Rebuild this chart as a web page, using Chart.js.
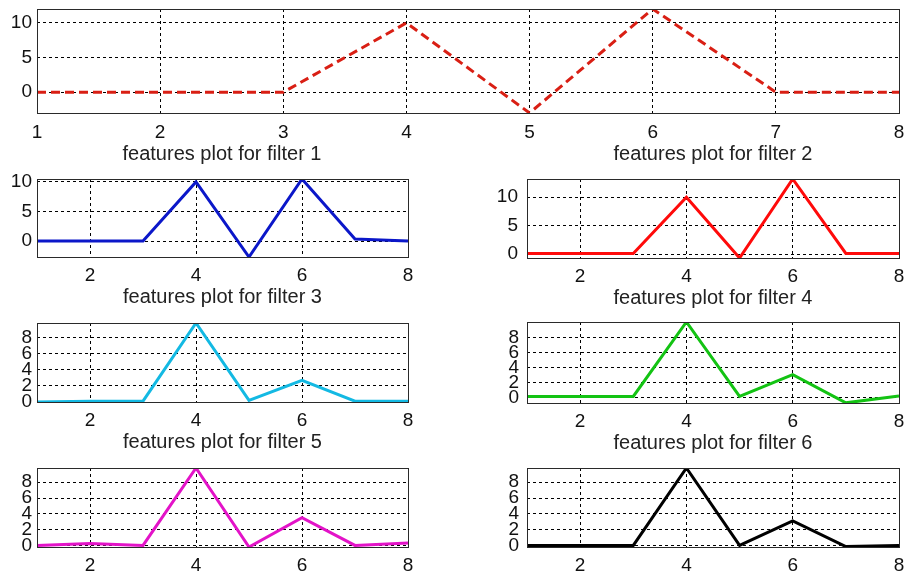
<!DOCTYPE html>
<html>
<head>
<meta charset="utf-8">
<script src="https://cdn.jsdelivr.net/npm/chart.js@4.4.0/dist/chart.umd.min.js"></script>
<style>
  html, body { margin: 0; padding: 0; background: #fff; }
  #fig { position: relative; width: 907px; height: 577px; overflow: hidden; }
  #fig canvas { position: absolute; }
</style>
</head>
<body>
<div id="fig"></div>
<script>
// feature index on the x axis
const xValues = [1, 2, 3, 4, 5, 6, 7, 8]

// values
const filter12 = [0, 0, 0, 10, -3, 12, 0, 0]
const filter3 = [0, 0, 0, 10, -2.7, 10.5, 0.35, 0]
const filter4 = [0.1, 0.1, 0.1, 10, -0.7, 13.2, 0.1, 0.1]
const filter5 = [0, 0.1, 0.1, 9.8, 0.2, 2.7, 0.1, 0.1]
const filter6 = [0.2, 0.2, 0.2, 10.1, 0.2, 3.1, -0.65, 0.25]
const filter7 = [0, 0.25, 0, 9.8, -0.2, 3.5, 0, 0.3]
const filter8 = [0, 0, 0, 9.8, 0, 3.1, -0.15, 0]

// tick labels
const xTicksTop = [1, 2, 3, 4, 5, 6, 7, 8]
const xTicksSub = [2, 4, 6, 8]
const yTicksWide = [0, 5, 10]
const yTicksNarrow = [0, 2, 4, 6, 8]

// axis limits (tight to data)
const yLimits = [[-3, 12], [-2.7, 10.5], [-0.7, 13.2], [0, 9.8], [-0.67, 10.1], [-0.2, 9.8], [-0.2, 9.8]]

const titlesTop = ['features plot for filter 1', 'features plot for filter 2']
const titlesSub = ['features plot for filter 3', 'features plot for filter 4', 'features plot for filter 5', 'features plot for filter 6', '', '']

const FONT = "'Liberation Sans', Arial, Helvetica, sans-serif"
const Y_AXIS_W = 37
const X_AXIS_H = 52
const PAD_TOP = 6
const PAD_RIGHT = 10

// plot area of every panel in page pixels: left, top, right, bottom
const panels = [
  { box: [37, 9, 899, 113], values: filter12, color: '#d91f14', dash: [9, 5], yTicks: yTicksWide, xTicks: xTicksTop, yPad: 5, xPad: 8 },
  { box: [37, 179, 408, 257], values: filter3, color: '#0b17c9', yTicks: yTicksWide, xTicks: xTicksSub, yPad: 5, xPad: 7 },
  { box: [527, 179, 899, 258], values: filter4, color: '#ff0a0a', yTicks: yTicksWide, xTicks: xTicksSub, yPad: 9, xPad: 7 },
  { box: [37, 323, 408, 402], values: filter5, color: '#13b9e3', yTicks: yTicksNarrow, xTicks: xTicksSub, yPad: 5, xPad: 7 },
  { box: [527, 322, 899, 403], values: filter6, color: '#13c313', yTicks: yTicksNarrow, xTicks: xTicksSub, yPad: 8, xPad: 7 },
  { box: [37, 468, 408, 547], values: filter7, color: '#e313c8', yTicks: yTicksNarrow, xTicks: xTicksSub, yPad: 5, xPad: 7 },
  { box: [527, 468, 899, 547], values: filter8, color: '#000000', yTicks: yTicksNarrow, xTicks: xTicksSub, yPad: 8, xPad: 7 }
]

// solid box around the plot area
const framePlugin = {
  id: 'frame',
  afterDatasetsDraw(chart) {
    const a = chart.chartArea
    const ctx = chart.ctx
    ctx.save()
    ctx.strokeStyle = '#2a2a2a'
    ctx.lineWidth = 1
    ctx.strokeRect(Math.round(a.left) + 0.5, Math.round(a.top) + 0.5,
      Math.round(a.right - a.left), Math.round(a.bottom - a.top))
    ctx.restore()
  }
}

// the wide top axes carries the two xlabels of the first subplot row
const twoTitlesPlugin = {
  id: 'twoTitles',
  afterDraw(chart, args, opts) {
    if (!opts.texts) return
    const ctx = chart.ctx
    ctx.save()
    ctx.font = '20px ' + FONT
    ctx.fillStyle = '#222'
    ctx.textAlign = 'center'
    ctx.textBaseline = 'middle'
    opts.texts.forEach((t, i) => {
      ctx.fillText(t, opts.centers[i], chart.chartArea.bottom + 41)
    })
    ctx.restore()
  }
}

const fig = document.getElementById('fig')

panels.forEach((p, i) => {
  const [left, top, right, bottom] = p.box
  const canvas = document.createElement('canvas')
  const w = Y_AXIS_W + (right - left) + PAD_RIGHT
  const h = PAD_TOP + (bottom - top) + X_AXIS_H
  canvas.width = w
  canvas.height = h
  canvas.style.left = (left - Y_AXIS_W) + 'px'
  canvas.style.top = (top - PAD_TOP) + 'px'
  fig.appendChild(canvas)

  const subTitle = i > 0 ? titlesSub[i - 1] : ''

  new Chart(canvas.getContext('2d'), {
    type: 'line',
    data: {
      datasets: [{
        data: xValues.map((x, k) => ({ x: x, y: p.values[k] })),
        borderColor: p.color,
        borderWidth: 3,
        borderDash: p.dash || [],
        pointRadius: 0,
        tension: 0,
        fill: false
      }]
    },
    options: {
      responsive: false,
      animation: false,
      devicePixelRatio: 1,
      layout: { padding: { left: 0, right: PAD_RIGHT, top: PAD_TOP, bottom: 0 } },
      scales: {
        x: {
          type: 'linear',
          min: 1,
          max: 8,
          afterBuildTicks: s => { s.ticks = p.xTicks.map(v => ({ value: v })) },
          afterFit: s => {
            s.height = X_AXIS_H
            s.paddingLeft = 0; s.paddingRight = 0
          },
          grid: { color: '#000', lineWidth: 1, drawTicks: false },
          border: { display: false, dash: [3, 3] },
          ticks: { color: '#111', padding: p.xPad, font: { family: FONT, size: 19 }, autoSkip: false, maxRotation: 0 },
          title: { display: subTitle !== '', text: subTitle, color: '#222', padding: 0, font: { family: FONT, size: 20 } }
        },
        y: {
          type: 'linear',
          min: yLimits[i][0],
          max: yLimits[i][1],
          afterBuildTicks: s => { s.ticks = p.yTicks.map(v => ({ value: v })) },
          afterFit: s => {
            s.width = Y_AXIS_W
            s.paddingTop = 0; s.paddingBottom = 0
          },
          grid: { color: '#000', lineWidth: 1, drawTicks: false },
          border: { display: false, dash: [3, 3] },
          ticks: { color: '#111', padding: p.yPad, font: { family: FONT, size: 19 }, autoSkip: false }
        }
      },
      plugins: {
        legend: { display: false },
        tooltip: { enabled: false },
        twoTitles: i === 0 ? { texts: titlesTop, centers: [222, 713] } : {}
      }
    },
    plugins: [framePlugin, twoTitlesPlugin]
  })
})
</script>
</body>
</html>
